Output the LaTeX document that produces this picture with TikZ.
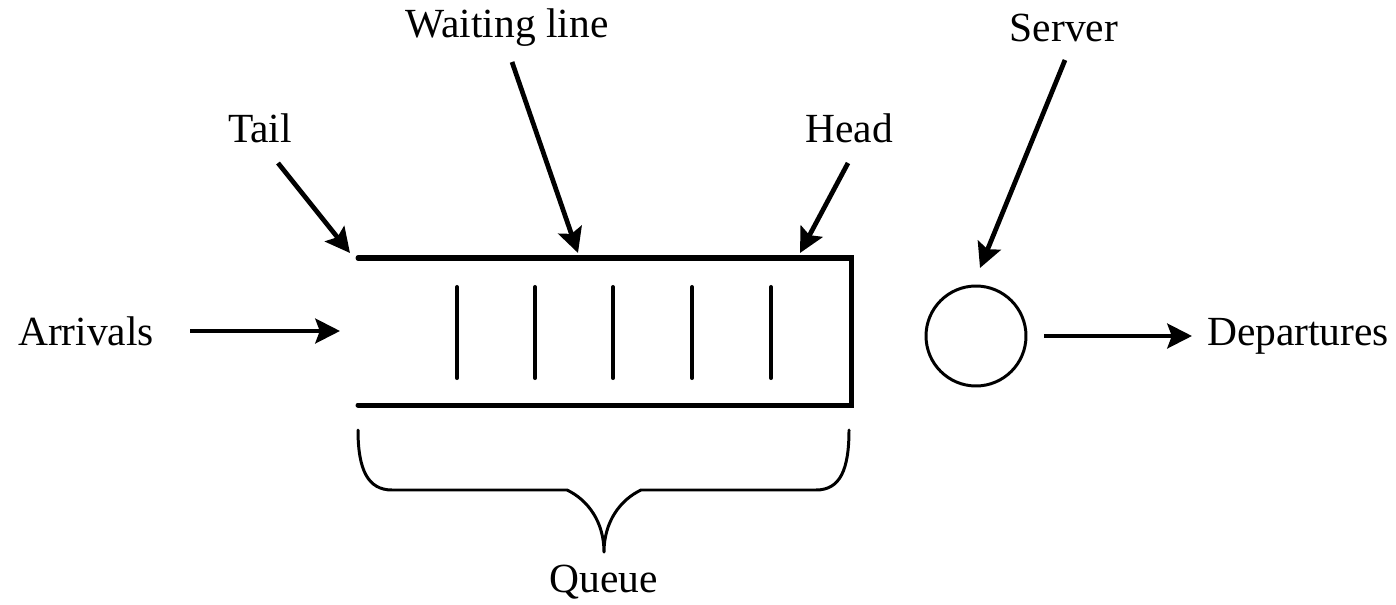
\documentclass[tikz,border=0pt]{standalone}
\usepackage{fontspec}
\setmainfont{Liberation Serif}
\usetikzlibrary{arrows.meta}
\begin{document}
\begin{tikzpicture}[x=0.02cm,y=-0.02cm,
  lbl/.style={inner sep=0pt,font=\fontsize{23.6}{28}\selectfont},
  arr/.style={line width=2.7pt,-{Stealth[length=14pt,width=14pt,inset=2.5pt]}},
  wall/.style={line width=2.85pt,line cap=round,line join=miter},
  slot/.style={line width=2.3pt,line cap=round},
  brace/.style={line width=1.7pt,line cap=round,line join=round}]
\useasboundingbox (0,0) rectangle (1396,605);

% labels
\node[lbl] (arrivals) at (86,331) {Arrivals};
\node[lbl] (tail) at (260,128) {Tail};
\node[lbl] (waiting) at (507,28) {Waiting line};
\node[lbl] (head) at (849,128) {Head};
\node[lbl] (srvlbl) at (1064,28) {Server};
\node[lbl] (departures) at (1298,336) {Departures};
\node[lbl] (queue) at (604,582) {Queue};

% the queue: open channel with a closed head end
\draw[wall] (358,258) -- (851,258) -- (851,405) -- (358,405);
\foreach \x in {457,535,613,692,771}
  \draw[slot] (\x,287) -- (\x,378);

% the server
\node[draw,circle,line width=1.7pt,minimum size=2cm,inner sep=0pt] (server) at (976,336) {};

% arrow anchor points
\coordinate (arrfrom) at (190,331);
\coordinate (arrto) at (340,331);
\coordinate (tailfrom) at (278,163);
\coordinate (tailto) at (350,253);
\coordinate (waitfrom) at (512,62);
\coordinate (waitto) at (578,253);
\coordinate (headfrom) at (848,163);
\coordinate (headto) at (800,253);
\coordinate (srvfrom) at (1065,60);
\coordinate (srvto) at (980,268);
\coordinate (depto) at (1192,336);

\draw[arr] (arrfrom) -- (arrto);
\draw[arr] (tailfrom) -- (tailto);
\draw[arr] (waitfrom) -- (waitto);
\draw[arr] (headfrom) -- (headto);
\draw[arr] (srvfrom) -- (srvto);
\draw[arr,shorten <=9.5pt] (server.east) -- (depto);

% brace under the queue
\draw[brace] (358,430) .. controls (358,470) and (368,490) .. (392,490)
  -- (567,490) .. controls (588,500) and (604,522) .. (604,552)
  .. controls (604,522) and (620,500) .. (641,490)
  -- (816,490) .. controls (840,490) and (849,470) .. (849,430);
\end{tikzpicture}
\end{document}
